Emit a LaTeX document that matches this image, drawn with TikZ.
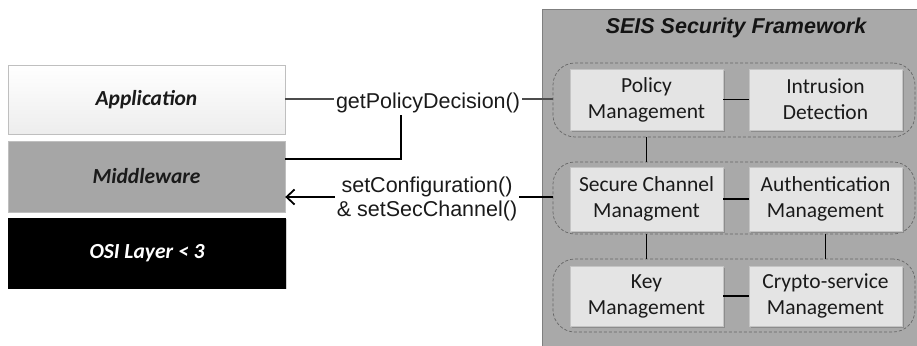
\documentclass[tikz,border=0pt]{standalone}
\usepackage{fontspec}
\setmainfont{Carlito}
\newfontfamily\labelfont{Liberation Sans}
\usetikzlibrary{arrows.meta,shadows}

\definecolor{framegray}{HTML}{A9A9A9}
\definecolor{frameline}{HTML}{7F7F7F}
\definecolor{boxfill}{HTML}{E4E4E4}
\definecolor{boxline}{HTML}{C4C4C4}
\definecolor{midfill}{HTML}{A6A6A6}
\definecolor{txtdark}{HTML}{1A1A1A}

\begin{document}
\begin{tikzpicture}[x=1pt,y=-1pt,
  layerbox/.style={minimum width=277pt, inner sep=0pt,
    font=\fontsize{21.5}{24}\selectfont\bfseries\itshape,
    general shadow={shadow xshift=1.2pt, shadow yshift=-1.2pt, fill=black!18}},
  modbox/.style={fill=boxfill, draw=boxline, line width=0.8pt,
    minimum width=153pt, inner sep=0pt, align=center, text=txtdark,
    font=\fontsize{21.5}{26}\selectfont,
    general shadow={shadow xshift=1.5pt, shadow yshift=-1.5pt, fill=black!45}},
  modgroup/.style={draw=black!60, dashed, dash pattern=on 3pt off 2pt,
    line width=0.7pt, rounded corners=22pt, minimum width=362pt, inner sep=0pt},
  callabel/.style={font=\labelfont\fontsize{21.5}{24.5}\selectfont,
    text=txtdark, align=center, inner sep=2pt},
  link/.style={line width=1.8pt, black},
]
\useasboundingbox (0,0) rectangle (917,345);

% protocol stack on the left
\node[layerbox, top color=white, bottom color=black!7, draw=black!25,
      minimum height=69pt, text=txtdark] (app) at (146.5,99.5) {Application};
\node[layerbox, fill=midfill, draw=black!25,
      minimum height=71pt, text=txtdark] (mid) at (146.5,176.5) {Middleware};
\node[layerbox, fill=black, draw=black,
      minimum height=70pt, text=white] (osi) at (147,253) {OSI Layer < 3};

% framework panel (runs past the right and bottom edges)
\node[fill=framegray, draw=frameline, line width=0.8pt, anchor=north west,
      minimum width=390pt, minimum height=360pt, inner sep=0pt] (frame) at (542,9) {};
\node[font=\labelfont\fontsize{21.5}{24}\selectfont\bfseries\itshape, text=black!92]
      (title) at (736,28) {SEIS Security Framework};

% dashed module groups
\node[modgroup, minimum height=74pt] (grp1) at (734,100) {};
\node[modgroup, minimum height=72pt] (grp2) at (734,198) {};
\node[modgroup, minimum height=73pt] (grp3) at (734,295.5) {};

% modules
\node[modbox, minimum height=61pt] (pm)   at (646.5,99.5) {Policy\\Management};
\node[modbox, minimum height=61pt] (ids)  at (825.5,99.5) {Intrusion\\Detection};
\node[modbox, minimum height=64pt] (scm)  at (646.5,199)  {Secure Channel\\Managment};
\node[modbox, minimum height=64pt] (auth) at (825.5,199)  {Authentication\\Management};
\node[modbox, minimum height=60pt] (km)   at (646.5,296)  {Key\\Management};
\node[modbox, minimum height=60pt] (csm)  at (825.5,296)  {Crypto-service\\Management};

% links between modules
\draw[link] (pm.east) -- (ids.west);
\draw[link] (scm.east) -- (auth.west);
\draw[link] (km.east) -- (csm.west);
\draw[link] (grp1.south -| pm) -- (grp2.north -| pm);
\draw[link] (grp2.south -| scm) -- (grp3.north -| scm);
\draw[link] (grp2.south -| auth) -- (grp3.north -| auth);

% calls between the stack and the framework
\coordinate (ya) at (0,99);
\coordinate (yb) at (0,197);
\coordinate (turn) at (401,159);
\node[callabel, anchor=base] (getpd) at (428,108) {getPolicyDecision()};
\node[callabel] (setcfg) at (427,199) {setConfiguration()\\\& setSecChannel()};

\draw[link, black!70] (app.east |- ya) -- (getpd.west |- ya);
\draw[link, black!70] (getpd.east |- ya) -- (grp1.west |- ya);
\draw[link] (mid.east |- turn) -- (turn) -- (turn |- getpd.south);
\draw[link] (grp2.west |- yb) -- (setcfg.east |- yb);
\draw[link, -{Straight Barb[length=8pt,width=15pt]}] (setcfg.west |- yb) -- (mid.east |- yb);
\end{tikzpicture}
\end{document}
